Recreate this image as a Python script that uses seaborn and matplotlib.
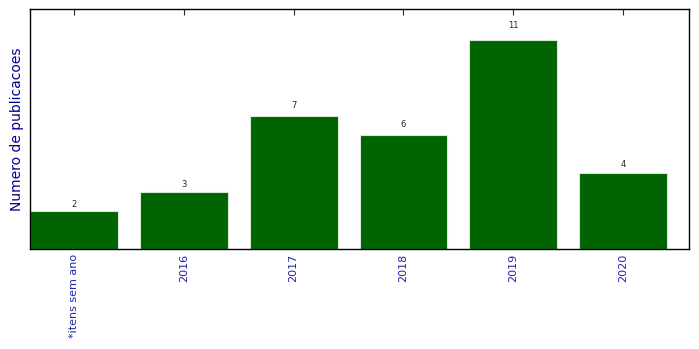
import matplotlib
matplotlib.use("Agg")
import matplotlib.pyplot as plt
import seaborn as sns
import pandas as pd

categories = ["*itens sem ano", "2016", "2017", "2018", "2019", "2020"]
counts = [2, 3, 7, 6, 11, 4]

sns.set_style("white")
plt.rcParams['font.family'] = ['DejaVu Sans']

df = pd.DataFrame({"cat": categories, "n": counts})

fig = plt.figure(figsize=(6.99, 3.49), dpi=100)
ax = fig.add_axes([30/699, 1-249/349, 659/699, 240/349])
sns.barplot(data=df, x="cat", y="n", color="#006400", saturation=1, width=0.8,
            edgecolor="#d8e8d8", linewidth=0.8, ax=ax)
ax.set_xlim(-0.4, 5.6)
ax.set_ylim(0, max(counts)*1.15)
ax.set_yticks([])
ax.set_xlabel("")
ax.set_ylabel("Numero de publicacoes", color="darkblue", fontsize=10)
ax.tick_params(axis="x", direction="in", top=True, bottom=True, length=4,
               labelrotation=90, labelcolor="#2222aa", labelsize=8, width=0.8)
for s in ax.spines.values():
    s.set_visible(True)
    s.set_color("black")
    s.set_linewidth(1)
for i, v in enumerate(counts):
    ax.text(i, v*1.05, str(v), ha="center", va="bottom", fontsize=6,
            color="#222222")
fig.savefig("out.png", dpi=100)
